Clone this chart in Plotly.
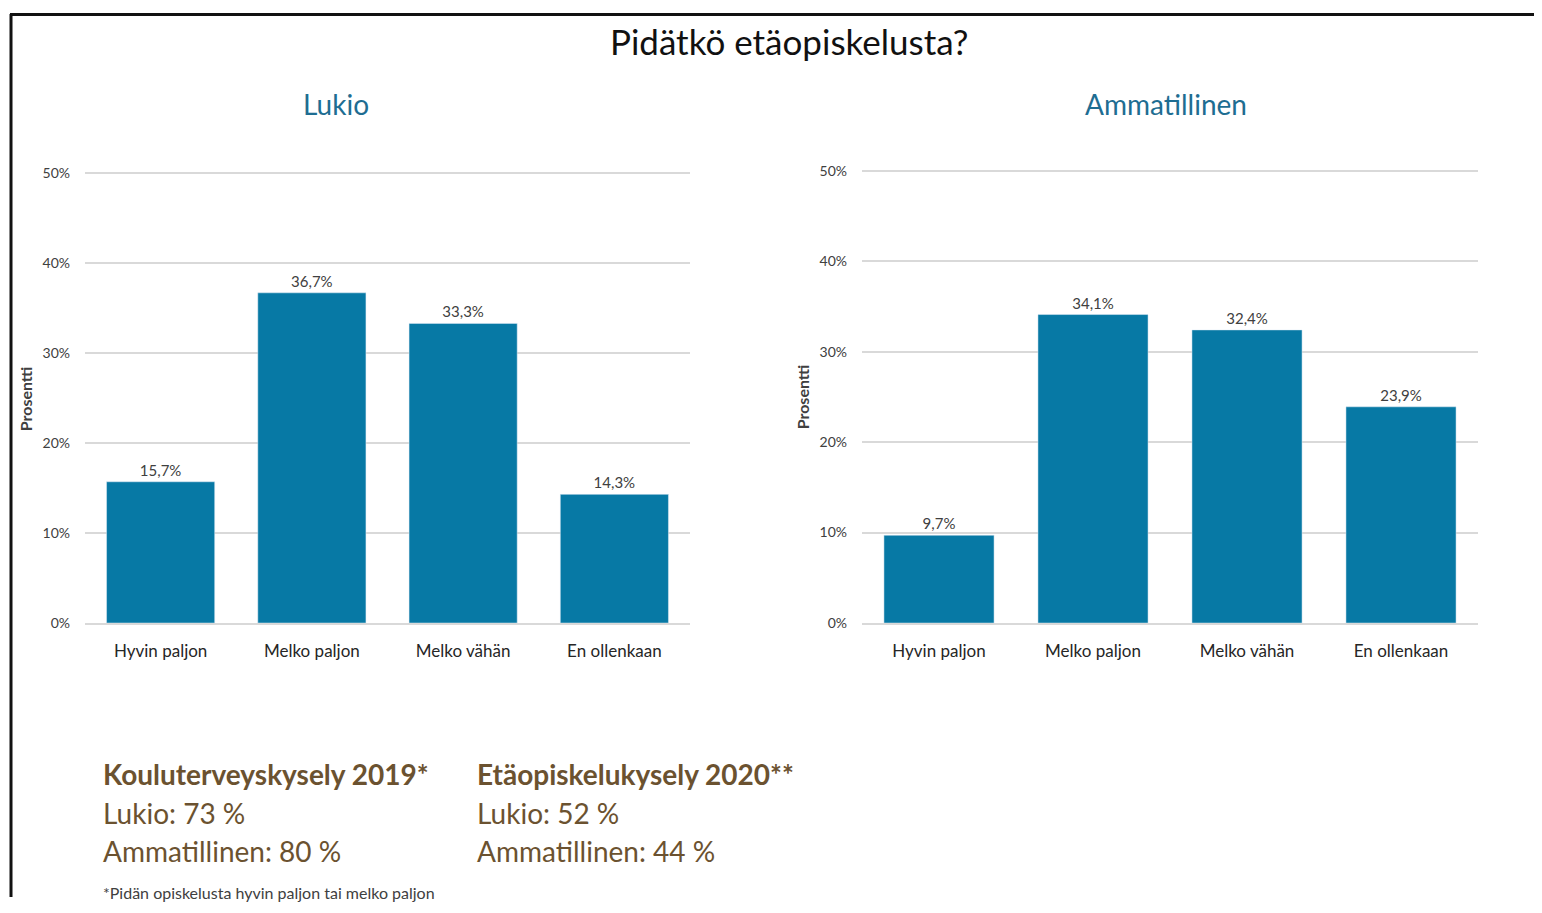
import plotly.graph_objects as go

categories = ["Hyvin paljon", "Melko paljon", "Melko vähän", "En ollenkaan"]
lukio_values = [15.7, 36.7, 33.3, 14.3]
ammatillinen_values = [9.7, 34.1, 32.4, 23.9]
y_ticks = [0, 10, 20, 30, 40, 50]
y_tick_labels = ["0%", "10%", "20%", "30%", "40%", "50%"]

# page has 8px body margin; figure sized to fit the window without scrollbars
OFF = 8
W, H = 1542 - 2 * OFF, 913 - 2 * OFF
def px(x):
    return (x - OFF) / W
def py(y):
    return 1 - (y - OFF) / H

FONT = "Lato"
BAR = "#0779A5"
TXT = "#404040"
BROWN = "#6B5230"
TEAL = "#1E6D92"
YMAX = 50.4

def top_of(y50, y0):
    return y0 - (y0 - y50) * YMAX / 50.0

fig = go.Figure()
fig.add_trace(go.Bar(x=categories, y=lukio_values, marker_color=BAR, xaxis="x", yaxis="y",
                     texttemplate="%{y:.1f}%", textposition="outside", cliponaxis=False,
                     textfont=dict(size=15, color=TXT, family=FONT), hoverinfo="skip"))
fig.add_trace(go.Bar(x=categories, y=ammatillinen_values, marker_color=BAR, xaxis="x2", yaxis="y2",
                     texttemplate="%{y:.1f}%", textposition="outside", cliponaxis=False,
                     textfont=dict(size=15, color=TXT, family=FONT), hoverinfo="skip"))

yax = dict(range=[0, YMAX], tickmode="array", tickvals=y_ticks, ticktext=y_tick_labels,
           showgrid=True, gridcolor="#D9D9D9",
           gridwidth=1.5, zeroline=False, showline=False, ticks="", ticklabelstandoff=14,
           tickfont=dict(size=14, color=TXT, family=FONT), fixedrange=True)
xax = dict(showgrid=False, showline=True, linecolor="#D9D9D9", linewidth=1.5, ticks="",
           ticklabelstandoff=12, tickfont=dict(size=17, color="#262626", family=FONT))

fig.update_layout(
    width=W, height=H, autosize=False,
    margin=dict(l=0, r=0, t=0, b=0),
    paper_bgcolor="white", plot_bgcolor="white",
    showlegend=False, bargap=0.285,
    separators=", ",
    font=dict(family=FONT, color=TXT),
    xaxis=dict(domain=[px(85), px(690)], anchor="y", **xax),
    yaxis=dict(domain=[py(627), py(top_of(170.5, 627))], anchor="x", **yax),
    xaxis2=dict(domain=[px(862), px(1478)], anchor="y2", **xax),
    yaxis2=dict(domain=[py(627), py(top_of(168, 627))], anchor="x2", **yax),
)

def ann(text, x, y, size, color, xanchor="center", bold=False, angle=0):
    fig.add_annotation(text=("<b>%s</b>" % text) if bold else text, x=px(x), y=py(y),
                       xref="paper", yref="paper", showarrow=False, xanchor=xanchor,
                       yanchor="middle", textangle=angle,
                       font=dict(size=size, color=color, family=FONT))

ann("Pidätkö etäopiskelusta?", 789, 36, 35, "#111111")
ann("Lukio", 336, 100, 28, TEAL)
ann("Ammatillinen", 1166, 100, 28, TEAL)
ann("<b>Prosentti</b>", 25, 400, 16, TXT, angle=-90)
ann("<b>Prosentti</b>", 802, 398, 16, TXT, angle=-90)

ann("Kouluterveyskysely 2019*", 101, 780, 28, BROWN, xanchor="left", bold=True)
ann("Lukio: 73 %", 101, 820, 28, BROWN, xanchor="left")
ann("Ammatillinen: 80 %", 101, 858, 28, BROWN, xanchor="left")
ann("Etäopiskelukysely 2020**", 475, 780, 28, BROWN, xanchor="left", bold=True)
ann("Lukio: 52 %", 475, 820, 28, BROWN, xanchor="left")
ann("Ammatillinen: 44 %", 475, 858, 28, BROWN, xanchor="left")
ann("*Pidän opiskelusta hyvin paljon tai melko paljon", 101, 900, 16, TXT, xanchor="left")

# frame
fig.add_shape(type="line", xref="paper", yref="paper", x0=px(11), x1=px(11), y0=py(9), y1=0,
              line=dict(color="#111111", width=3))
fig.add_shape(type="line", xref="paper", yref="paper", x0=px(10), x1=1, y0=py(9.5), y1=py(9.5),
              line=dict(color="#111111", width=3))

fig.write_html("out.html")
